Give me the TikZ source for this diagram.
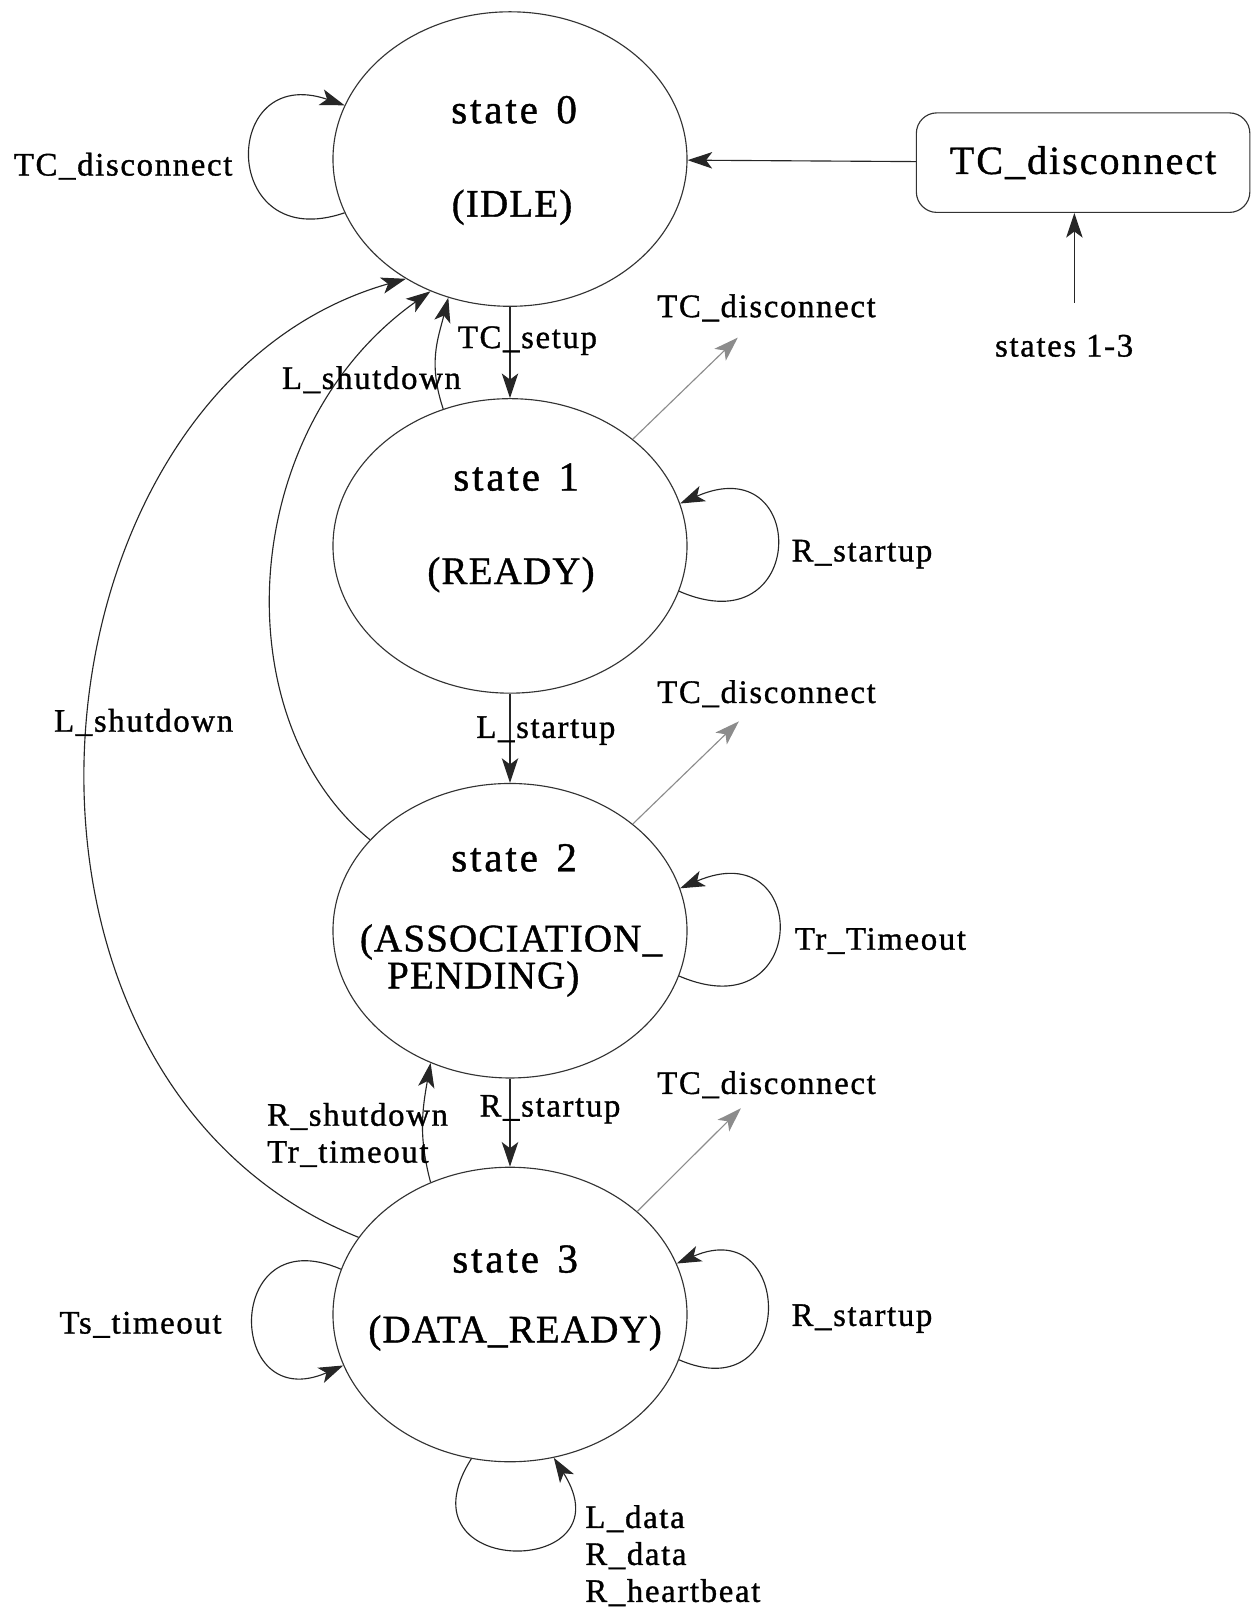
\documentclass[tikz,border=0pt]{standalone}
\usepackage{fontspec}
\setmainfont{Liberation Serif}
\newfontfamily\labelfont[LetterSpace=5,FakeBold=1]{Liberation Serif}
\newfontfamily\statefont[LetterSpace=3,FakeBold=1]{Liberation Serif}
\newfontfamily\numfont[LetterSpace=7,FakeBold=1]{Liberation Serif}
\usetikzlibrary{shapes.geometric,arrows.meta}

\begin{document}
\begin{tikzpicture}[x=0.5pt,y=-0.5pt,
  st/.style={ellipse, draw=black!80, line width=0.55pt,
    minimum width=172.5pt, minimum height=143.5pt, inner sep=0pt},
  stx/.style={font=\statefont\fontsize{19}{22}\selectfont, inner sep=0pt},
  stn/.style={font=\numfont\fontsize{20}{22}\selectfont, inner sep=0pt},
  lab/.style={font=\labelfont\fontsize{16}{18}\selectfont, inner sep=0pt},
  tcbox/.style={draw=black!80, line width=0.55pt, rounded corners=10pt,
    minimum width=162.5pt, minimum height=48.5pt, inner sep=0pt,
    font=\labelfont\fontsize{19.5}{24}\selectfont},
  arr/.style={draw=black!85, line width=0.55pt,
    -{Stealth[length=12pt,width=8pt,inset=3pt]}},
  arrf/.style={arr, draw=black!45}]

\useasboundingbox[fill=white] (0,0) rectangle (1221,1568);

% states
\node[st] (s0) at (497,155) {};
\node[st] (s1) at (497,532) {};
\node[st] (s2) at (497,907) {};
\node[st] (s3) at (497,1281) {};

\node[stn] (s0a) at (501,107) {state\hspace{0.45em}0};
\node[stx] (s0b) at (499,202) {(IDLE)};
\node[stn] (s1a) at (503,465) {state\hspace{0.45em}1};
\node[stx] (s1b) at (498,560) {(READY)};
\node[stn] (s2a) at (501,836) {state\hspace{0.45em}2};
\node[stx] (s2b) at (498,918) {(ASSOCIATION\_};
\node[stx] (s2c) at (471,954) {PENDING)};
\node[stn] (s3a) at (502,1227) {state\hspace{0.45em}3};
\node[stx] (s3b) at (502,1299) {(DATA\_READY)};

% global disconnect event
\node[tcbox] (tcb) at (1055.5,158.5) {TC\_disconnect};
\node[lab] (st13) at (1037,337) {states 1-3};
\coordinate (c13) at (1047,295);
\draw[arr] (c13) -- (c13 |- tcb.south);
\draw[arr] (tcb) -- (s0);

% main chain
\draw[arr] (s0) -- (s1);
\draw[arr] (s1) -- (s2);
\draw[arr] (s2) -- (s3);
\node[lab] (lsetup) at (514,332) {TC\_setup};
\node[lab] (lstart) at (532,712) {L\_startup};
\node[lab] (rstart) at (536,1081) {R\_startup};

% self loops
\draw[arr] (s0.198) .. controls +(-122,42) and +(-122,-42) .. (s0.162);
\node[lab] (l0) at (120,162) {TC\_disconnect};

\draw[arr] (s1.-15) .. controls +(126,55) and +(126,-55) .. (s1.14);
\node[lab] (l1) at (840,540) {R\_startup};

\draw[arr] (s2.-15) .. controls +(128,55) and +(128,-55) .. (s2.14);
\node[lab] (l2) at (858,917) {Tr\_Timeout};

\draw[arr] (s3.-15) .. controls +(115,50) and +(115,-50) .. (s3.17);
\node[lab] (l3r) at (840,1285) {R\_startup};

\draw[arr] (s3.165) .. controls +(-115,-50) and +(-115,50) .. (s3.197);
\node[lab] (l3l) at (137,1291) {Ts\_timeout};

\draw[arr] (s3.255) .. controls +(-75,118) and +(75,118) .. (s3.287);
\node[lab, align=left, anchor=west] (l3b) at (570,1516)
  {L\_data\\R\_data\\R\_heartbeat};

% shutdown transitions
\draw[arr] (s1.116) .. controls +(-15,-45) and +(-10,40) .. (s0.246);
\draw[arr] (s2.147) .. controls +(-144,-118) and +(-189,134) .. (s0.239);
\draw[arr] (s3.153) .. controls +(-391,-158) and +(-376,107) .. (s0.229);
\node[lab] (lsd1) at (362,370) {L\_shutdown};
\node[lab] (lsd2) at (140,704) {L\_shutdown};

\draw[arr] (s3.121) .. controls +(-12,-45) and +(-8,45) .. (s2.239);
\node[lab, align=left, anchor=west] (lrs) at (260,1106)
  {R\_shutdown\\Tr\_timeout};

% disconnects leaving states 1-3
\coordinate (d1) at (719,329);
\coordinate (d2) at (720,703);
\coordinate (d3) at (722,1080);
\draw[arrf] (s1.41) -- (d1);
\draw[arrf] (s2.41) -- (d2);
\draw[arrf] (s3.39) -- (d3);
\node[lab] (td1) at (747,300) {TC\_disconnect};
\node[lab] (td2) at (747,676) {TC\_disconnect};
\node[lab] (td3) at (747,1057) {TC\_disconnect};
\end{tikzpicture}
\end{document}
